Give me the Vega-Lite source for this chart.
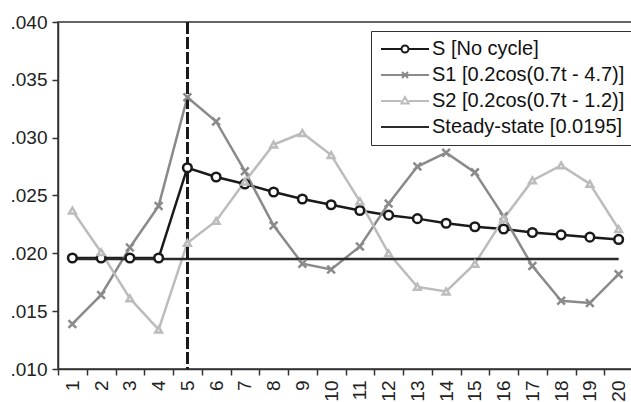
{
  "$schema": "https://vega.github.io/schema/vega-lite/v6.json",
  "autosize": "none",
  "padding": {"left": 58, "top": 22, "right": 0, "bottom": 33},
  "width": 575,
  "height": 347,
  "config": {
    "view": {"stroke": "#333", "strokeWidth": 1.5},
    "axis": {"labelFont": "Liberation Sans", "labelFontSize": 19, "labelColor": "#222", "domainColor": "#333", "domainWidth": 1.5, "tickColor": "#333", "tickWidth": 1.5, "tickSize": 6, "grid": false, "title": null}
  },
  "data": {"values": [
    {"t":1,"s":"S [No cycle]","v":0.0196},{"t":2,"s":"S [No cycle]","v":0.0196},{"t":3,"s":"S [No cycle]","v":0.0196},{"t":4,"s":"S [No cycle]","v":0.0196},{"t":5,"s":"S [No cycle]","v":0.0274},{"t":6,"s":"S [No cycle]","v":0.0266},{"t":7,"s":"S [No cycle]","v":0.0260},{"t":8,"s":"S [No cycle]","v":0.0253},{"t":9,"s":"S [No cycle]","v":0.0247},{"t":10,"s":"S [No cycle]","v":0.0242},{"t":11,"s":"S [No cycle]","v":0.0237},{"t":12,"s":"S [No cycle]","v":0.0233},{"t":13,"s":"S [No cycle]","v":0.0230},{"t":14,"s":"S [No cycle]","v":0.0226},{"t":15,"s":"S [No cycle]","v":0.0223},{"t":16,"s":"S [No cycle]","v":0.0221},{"t":17,"s":"S [No cycle]","v":0.0218},{"t":18,"s":"S [No cycle]","v":0.0216},{"t":19,"s":"S [No cycle]","v":0.0214},{"t":20,"s":"S [No cycle]","v":0.0212},
    {"t":1,"s":"S1 [0.2cos(0.7t - 4.7)]","v":0.0139},{"t":2,"s":"S1 [0.2cos(0.7t - 4.7)]","v":0.0164},{"t":3,"s":"S1 [0.2cos(0.7t - 4.7)]","v":0.0205},{"t":4,"s":"S1 [0.2cos(0.7t - 4.7)]","v":0.0241},{"t":5,"s":"S1 [0.2cos(0.7t - 4.7)]","v":0.0335},{"t":6,"s":"S1 [0.2cos(0.7t - 4.7)]","v":0.0314},{"t":7,"s":"S1 [0.2cos(0.7t - 4.7)]","v":0.0271},{"t":8,"s":"S1 [0.2cos(0.7t - 4.7)]","v":0.0224},{"t":9,"s":"S1 [0.2cos(0.7t - 4.7)]","v":0.0191},{"t":10,"s":"S1 [0.2cos(0.7t - 4.7)]","v":0.0186},{"t":11,"s":"S1 [0.2cos(0.7t - 4.7)]","v":0.0206},{"t":12,"s":"S1 [0.2cos(0.7t - 4.7)]","v":0.0243},{"t":13,"s":"S1 [0.2cos(0.7t - 4.7)]","v":0.0275},{"t":14,"s":"S1 [0.2cos(0.7t - 4.7)]","v":0.0287},{"t":15,"s":"S1 [0.2cos(0.7t - 4.7)]","v":0.0270},{"t":16,"s":"S1 [0.2cos(0.7t - 4.7)]","v":0.0232},{"t":17,"s":"S1 [0.2cos(0.7t - 4.7)]","v":0.0189},{"t":18,"s":"S1 [0.2cos(0.7t - 4.7)]","v":0.0159},{"t":19,"s":"S1 [0.2cos(0.7t - 4.7)]","v":0.0157},{"t":20,"s":"S1 [0.2cos(0.7t - 4.7)]","v":0.0182},
    {"t":1,"s":"S2 [0.2cos(0.7t - 1.2)]","v":0.0237},{"t":2,"s":"S2 [0.2cos(0.7t - 1.2)]","v":0.0201},{"t":3,"s":"S2 [0.2cos(0.7t - 1.2)]","v":0.0161},{"t":4,"s":"S2 [0.2cos(0.7t - 1.2)]","v":0.0134},{"t":5,"s":"S2 [0.2cos(0.7t - 1.2)]","v":0.0209},{"t":6,"s":"S2 [0.2cos(0.7t - 1.2)]","v":0.0228},{"t":7,"s":"S2 [0.2cos(0.7t - 1.2)]","v":0.0262},{"t":8,"s":"S2 [0.2cos(0.7t - 1.2)]","v":0.0294},{"t":9,"s":"S2 [0.2cos(0.7t - 1.2)]","v":0.0304},{"t":10,"s":"S2 [0.2cos(0.7t - 1.2)]","v":0.0285},{"t":11,"s":"S2 [0.2cos(0.7t - 1.2)]","v":0.0245},{"t":12,"s":"S2 [0.2cos(0.7t - 1.2)]","v":0.0200},{"t":13,"s":"S2 [0.2cos(0.7t - 1.2)]","v":0.0171},{"t":14,"s":"S2 [0.2cos(0.7t - 1.2)]","v":0.0167},{"t":15,"s":"S2 [0.2cos(0.7t - 1.2)]","v":0.0191},{"t":16,"s":"S2 [0.2cos(0.7t - 1.2)]","v":0.0230},{"t":17,"s":"S2 [0.2cos(0.7t - 1.2)]","v":0.0263},{"t":18,"s":"S2 [0.2cos(0.7t - 1.2)]","v":0.0276},{"t":19,"s":"S2 [0.2cos(0.7t - 1.2)]","v":0.0260},{"t":20,"s":"S2 [0.2cos(0.7t - 1.2)]","v":0.0221},
    {"t":1,"s":"Steady-state [0.0195]","v":0.0195},{"t":2,"s":"Steady-state [0.0195]","v":0.0195},{"t":3,"s":"Steady-state [0.0195]","v":0.0195},{"t":4,"s":"Steady-state [0.0195]","v":0.0195},{"t":5,"s":"Steady-state [0.0195]","v":0.0195},{"t":6,"s":"Steady-state [0.0195]","v":0.0195},{"t":7,"s":"Steady-state [0.0195]","v":0.0195},{"t":8,"s":"Steady-state [0.0195]","v":0.0195},{"t":9,"s":"Steady-state [0.0195]","v":0.0195},{"t":10,"s":"Steady-state [0.0195]","v":0.0195},{"t":11,"s":"Steady-state [0.0195]","v":0.0195},{"t":12,"s":"Steady-state [0.0195]","v":0.0195},{"t":13,"s":"Steady-state [0.0195]","v":0.0195},{"t":14,"s":"Steady-state [0.0195]","v":0.0195},{"t":15,"s":"Steady-state [0.0195]","v":0.0195},{"t":16,"s":"Steady-state [0.0195]","v":0.0195},{"t":17,"s":"Steady-state [0.0195]","v":0.0195},{"t":18,"s":"Steady-state [0.0195]","v":0.0195},{"t":19,"s":"Steady-state [0.0195]","v":0.0195},{"t":20,"s":"Steady-state [0.0195]","v":0.0195}
  ]},
  "encoding": {
    "x": {"field": "t", "type": "ordinal", "scale": {"type": "band", "paddingInner": 0, "paddingOuter": 0},
      "axis": {"labelAngle": 270, "tickBand": "extent", "labelPadding": 5}},
    "y": {"field": "v", "type": "quantitative", "scale": {"domain": [0.010, 0.040], "nice": false, "zero": false},
      "axis": {"values": [0.010, 0.015, 0.020, 0.025, 0.030, 0.035, 0.040], "labelExpr": "replace(format(datum.value, '.3f'), '0.', '.')", "labelPadding": 5, "minExtent": 53, "maxExtent": 53}}
  },
  "layer": [
    {
      "mark": {"type": "line"},
      "encoding": {
        "color": {"field": "s", "type": "nominal",
          "scale": {"domain": ["S [No cycle]", "S1 [0.2cos(0.7t - 4.7)]", "S2 [0.2cos(0.7t - 1.2)]", "Steady-state [0.0195]"], "range": ["#1a1a1a", "#8a8a8a", "#bcbcbc", "#2a2a2a"]},
          "legend": {"title": null, "orient": "none", "legendX": 313, "legendY": 9, "fillColor": "white", "strokeColor": "#333", "padding": 8,
            "labelFont": "Liberation Sans", "labelFontSize": 20, "labelColor": "#111", "labelLimit": 400, "symbolSize": 64, "symbolStrokeWidth": 2,
            "symbolOffset": 16, "labelOffset": 17, "rowPadding": 6,
            "encoding": {"symbols": {
              "shape": {"value": {"expr": "datum.value === 'S [No cycle]' ? 'M-6,0H-0.875M0.875,0H6M0.875,0A0.875,0.875 0 1 1 -0.875,0A0.875,0.875 0 1 1 0.875,0Z' : datum.value === 'S1 [0.2cos(0.7t - 4.7)]' ? 'M-6,0H6M-0.75,-0.75L0.75,0.75M-0.75,0.75L0.75,-0.75' : datum.value === 'S2 [0.2cos(0.7t - 1.2)]' ? 'M-6,0H-0.9M0.9,0H6M0,-1L0.9,0.6L-0.9,0.6Z' : 'M-6,0H6'"}},
              "fill": {"value": "white"}}}}},
        "strokeWidth": {"field": "s", "type": "nominal", "scale": {"domain": ["S [No cycle]", "S1 [0.2cos(0.7t - 4.7)]", "S2 [0.2cos(0.7t - 1.2)]", "Steady-state [0.0195]"], "range": [2.5, 2.5, 2.2, 2]}, "legend": null},
        "order": {"field": "t"}
      }
    },
    {
      "mark": {"type": "rule", "strokeDash": [12, 3], "strokeWidth": 2.5, "color": "#1a1a1a"},
      "encoding": {"x": {"datum": 5}, "y": null}
    },
    {
      "transform": [{"filter": "datum.s !== 'Steady-state [0.0195]'"}],
      "mark": {"type": "point", "filled": false, "fill": "white", "fillOpacity": 1, "opacity": 1},
      "encoding": {
        "color": {"field": "s", "type": "nominal", "legend": null},
        "shape": {"field": "s", "type": "nominal", "scale": {"domain": ["S [No cycle]", "S1 [0.2cos(0.7t - 4.7)]", "S2 [0.2cos(0.7t - 1.2)]"], "range": ["circle", "M-1,-1L1,1M-1,1L1,-1", "triangle-up"]}, "legend": null},
        "size": {"field": "s", "type": "nominal", "scale": {"domain": ["S [No cycle]", "S1 [0.2cos(0.7t - 4.7)]", "S2 [0.2cos(0.7t - 1.2)]"], "range": [75, 45, 70]}, "legend": null},
        "strokeWidth": {"field": "s", "type": "nominal", "scale": {"domain": ["S [No cycle]", "S1 [0.2cos(0.7t - 4.7)]", "S2 [0.2cos(0.7t - 1.2)]"], "range": [1.6, 2.5, 1.5]}, "legend": null}
      }
    }
  ]
}
